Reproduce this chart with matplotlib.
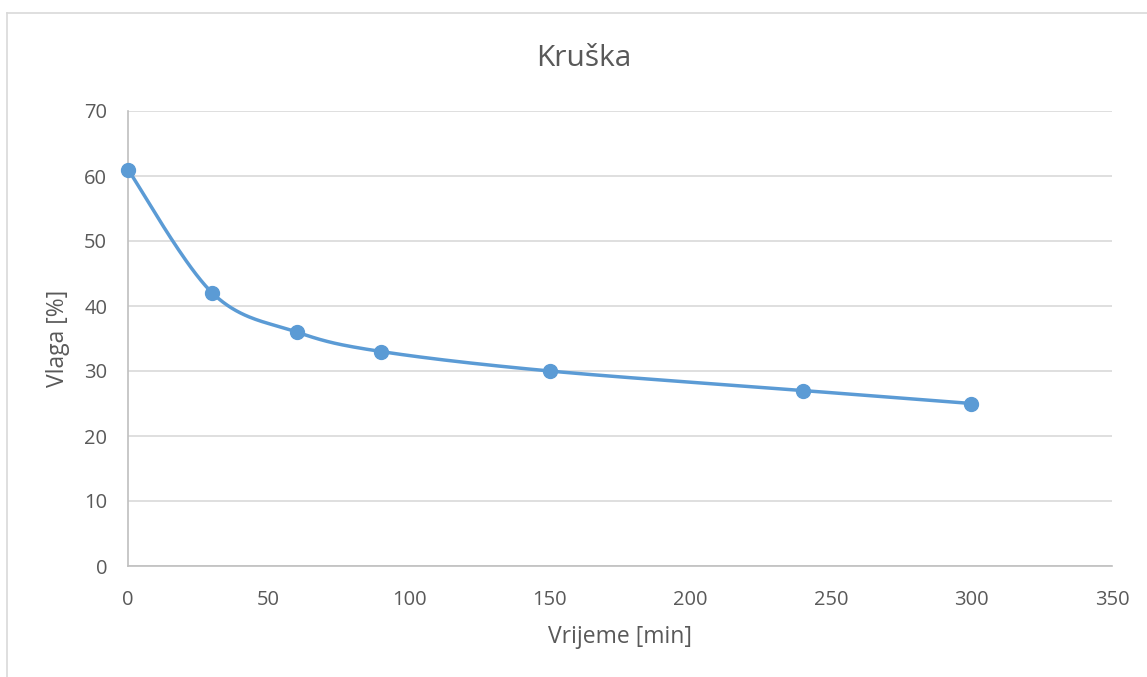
import numpy as np
import matplotlib
matplotlib.use("Agg")
import matplotlib.pyplot as plt
from matplotlib.lines import Line2D

# Data
time_min = [0, 30, 60, 90, 150, 240, 300]
moisture = [61, 42, 36, 33, 30, 27, 25]
title = "Kruška"
xlabel = "Vrijeme [min]"
ylabel = "Vlaga [%]"
xticks = [0, 50, 100, 150, 200, 250, 300, 350]
yticks = [0, 10, 20, 30, 40, 50, 60, 70]

W, H = 1147, 677
fig = plt.figure(figsize=(W / 100, H / 100), dpi=100)
plt.rcParams['font.family'] = ['Open Sans', 'DejaVu Sans']

ax = fig.add_axes([128 / W, (H - 566) / H, (1112 - 128) / W, (566 - 111) / H])

# Excel-like smoothed curve (Catmull-Rom style Bezier)
x = np.array(time_min, float)
y = np.array(moisture, float)
n = len(x)
sx, sy = [], []
t = np.linspace(0, 1, 40)
for i in range(n - 1):
    p0 = np.array([x[max(i - 1, 0)], y[max(i - 1, 0)]])
    p1 = np.array([x[i], y[i]])
    p2 = np.array([x[i + 1], y[i + 1]])
    p3 = np.array([x[min(i + 2, n - 1)], y[min(i + 2, n - 1)]])
    c1 = p1 + (p2 - p0) / 6
    c2 = p2 - (p3 - p1) / 6
    b = ((1 - t) ** 3)[:, None] * p1 + (3 * (1 - t) ** 2 * t)[:, None] * c1 \
        + (3 * (1 - t) * t ** 2)[:, None] * c2 + (t ** 3)[:, None] * p2
    sx.extend(b[:, 0]); sy.extend(b[:, 1])

color = "#5B9BD5"
ax.plot(sx, sy, color=color, lw=2.5, solid_capstyle='round', zorder=3, clip_on=False)
ax.plot(x, y, 'o', color=color, markersize=10, zorder=4, clip_on=False)

ax.set_xlim(0, 350)
ax.set_ylim(0, 70)
ax.set_xticks(xticks)
ax.set_yticks(yticks)
ax.grid(axis='y', color='#D9D9D9', lw=1.2)
ax.set_axisbelow(True)
for s in ['top', 'right']:
    ax.spines[s].set_visible(False)
for s in ['left', 'bottom']:
    ax.spines[s].set_color('#BFBFBF')
    ax.spines[s].set_linewidth(1.2)
ax.tick_params(length=0, labelsize=14.5, labelcolor='#595959')
ax.tick_params(axis='y', pad=15)
ax.tick_params(axis='x', pad=17)
ax.set_xlabel(xlabel, fontsize=16.5, color='#595959', labelpad=11)
ax.set_ylabel(ylabel, fontsize=16.5, color='#595959', labelpad=10)
fig.text((537 + 630) / 2 / W, 1 - 58 / H, title, ha='center', va='center',
         fontsize=21.5, color='#595959')

# outer chart border
fig.add_artist(Line2D([7.5 / W, 7.5 / W], [0, 1 - 12.5 / H], transform=fig.transFigure,
                      color='#D9D9D9', lw=1.2))
fig.add_artist(Line2D([7.5 / W, 1], [1 - 12.5 / H, 1 - 12.5 / H], transform=fig.transFigure,
                      color='#D9D9D9', lw=1.2))

fig.savefig("out.png", dpi=100)
